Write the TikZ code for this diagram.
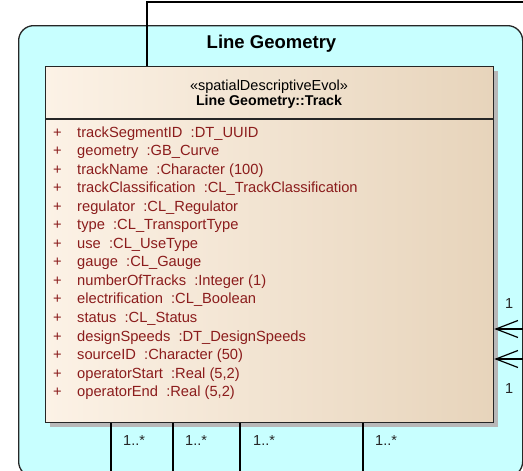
\documentclass[tikz,border=0pt]{standalone}
\usepackage{fontspec}
\setmainfont{Liberation Sans}
\usetikzlibrary{arrows.meta,calc}
\definecolor{pkgfill}{HTML}{C8FFFF}
\definecolor{attrred}{HTML}{8B1C1C}
\definecolor{clsleft}{HTML}{FCF2E6}
\definecolor{clsright}{HTML}{E7D4BB}
\definecolor{shadowgray}{HTML}{B8B8B8}
\tikzset{
  pkgbox/.style={draw=black!85, line width=1.3pt, fill=pkgfill, rounded corners=15pt, minimum width=504pt, minimum height=451pt, anchor=north west, inner sep=0pt},
  clsbox/.style={draw=black!85, line width=1.3pt, left color=clsleft, right color=clsright, minimum width=448pt, minimum height=356pt, anchor=north west, inner sep=0pt},
  shadowbox/.style={fill=shadowgray, minimum width=448pt, minimum height=356pt, anchor=north west, inner sep=0pt},
  attr/.style={anchor=base west, inner sep=0pt, text=attrred, font=\fontsize{14.7}{16}\selectfont},
  mult/.style={anchor=base west, inner sep=0pt, text=black!85, font=\fontsize{14.5}{16}\selectfont},
  conn/.style={draw=black, line width=1.2pt},
  assoc/.style={draw=black, line width=1.2pt, -{Straight Barb[length=22pt, width=17pt]}},
}
\begin{document}
\begin{tikzpicture}[x=1pt,y=-1pt]
\useasboundingbox (0,0) rectangle (523,471);
\begin{scope}
\clip (0,0) rectangle (523,471);
% package
\node[pkgbox] (pkg) at (18,25) {};
\node[font=\bfseries\fontsize{18.5}{22}\selectfont, inner sep=0pt] (pkgtitle) at (271.5,44) {Line Geometry};
% class
\node[shadowbox] (shadow) at (49.5,70.5) {};
\node[clsbox] (cls) at (45,66) {};
\draw[black!85, line width=1.2pt] ($(cls.north west)+(0,53)$) -- ($(cls.north east)+(0,53)$);
\node[inner sep=0pt, font=\fontsize{14.5}{16}\selectfont] (stereo) at (269,87) {«spatialDescriptiveEvol»};
\node[inner sep=0pt, font=\bfseries\fontsize{14.2}{16}\selectfont] (clsname) at (269,102) {Line Geometry::Track};
% attributes
\foreach \t [count=\i] in {
  {trackSegmentID\ \ :DT\_UUID},
  {geometry\ \ :GB\_Curve},
  {trackName\ \ :Character (100)},
  {trackClassification\ \ :CL\_TrackClassification},
  {regulator\ \ :CL\_Regulator},
  {type\ \ :CL\_TransportType},
  {use\ \ :CL\_UseType},
  {gauge\ \ :CL\_Gauge},
  {numberOfTracks\ \ :Integer (1)},
  {electrification\ \ :CL\_Boolean},
  {status\ \ :CL\_Status},
  {designSpeeds\ \ :DT\_DesignSpeeds},
  {sourceID\ \ :Character (50)},
  {operatorStart\ \ :Real (5,2)},
  {operatorEnd\ \ :Real (5,2)}} {
  \node[attr] (plus\i) at (53,{137+(\i-1)*18.55}) {+};
  \node[attr] (a\i) at (77,{137+(\i-1)*18.55}) {\t};
}
% connectors
\coordinate (topend) at (530,2);
\coordinate (topcorner) at (147,2);
\draw[conn] (topend) -- (topcorner) -- (cls.north -| topcorner);
\coordinate (r1) at (530,329);
\coordinate (r2) at (530,359);
\draw[assoc] (r1) -- (r1 -| cls.east);
\draw[assoc] (r2) -- (r2 -| cls.east);
\node[mult] (m1) at (505,308) {1};
\node[mult] (m2) at (505,393) {1};
\coordinate (b1) at (111,480);
\coordinate (b2) at (173,480);
\coordinate (b3) at (240,480);
\coordinate (b4) at (363,480);
\foreach \b in {b1,b2,b3,b4} \draw[conn] (cls.south -| \b) -- (\b);
\node[mult] (n1) at (123,445) {1..*};
\node[mult] (n2) at (185,445) {1..*};
\node[mult] (n3) at (253,445) {1..*};
\node[mult] (n4) at (375,445) {1..*};
\end{scope}
\end{tikzpicture}
\end{document}
